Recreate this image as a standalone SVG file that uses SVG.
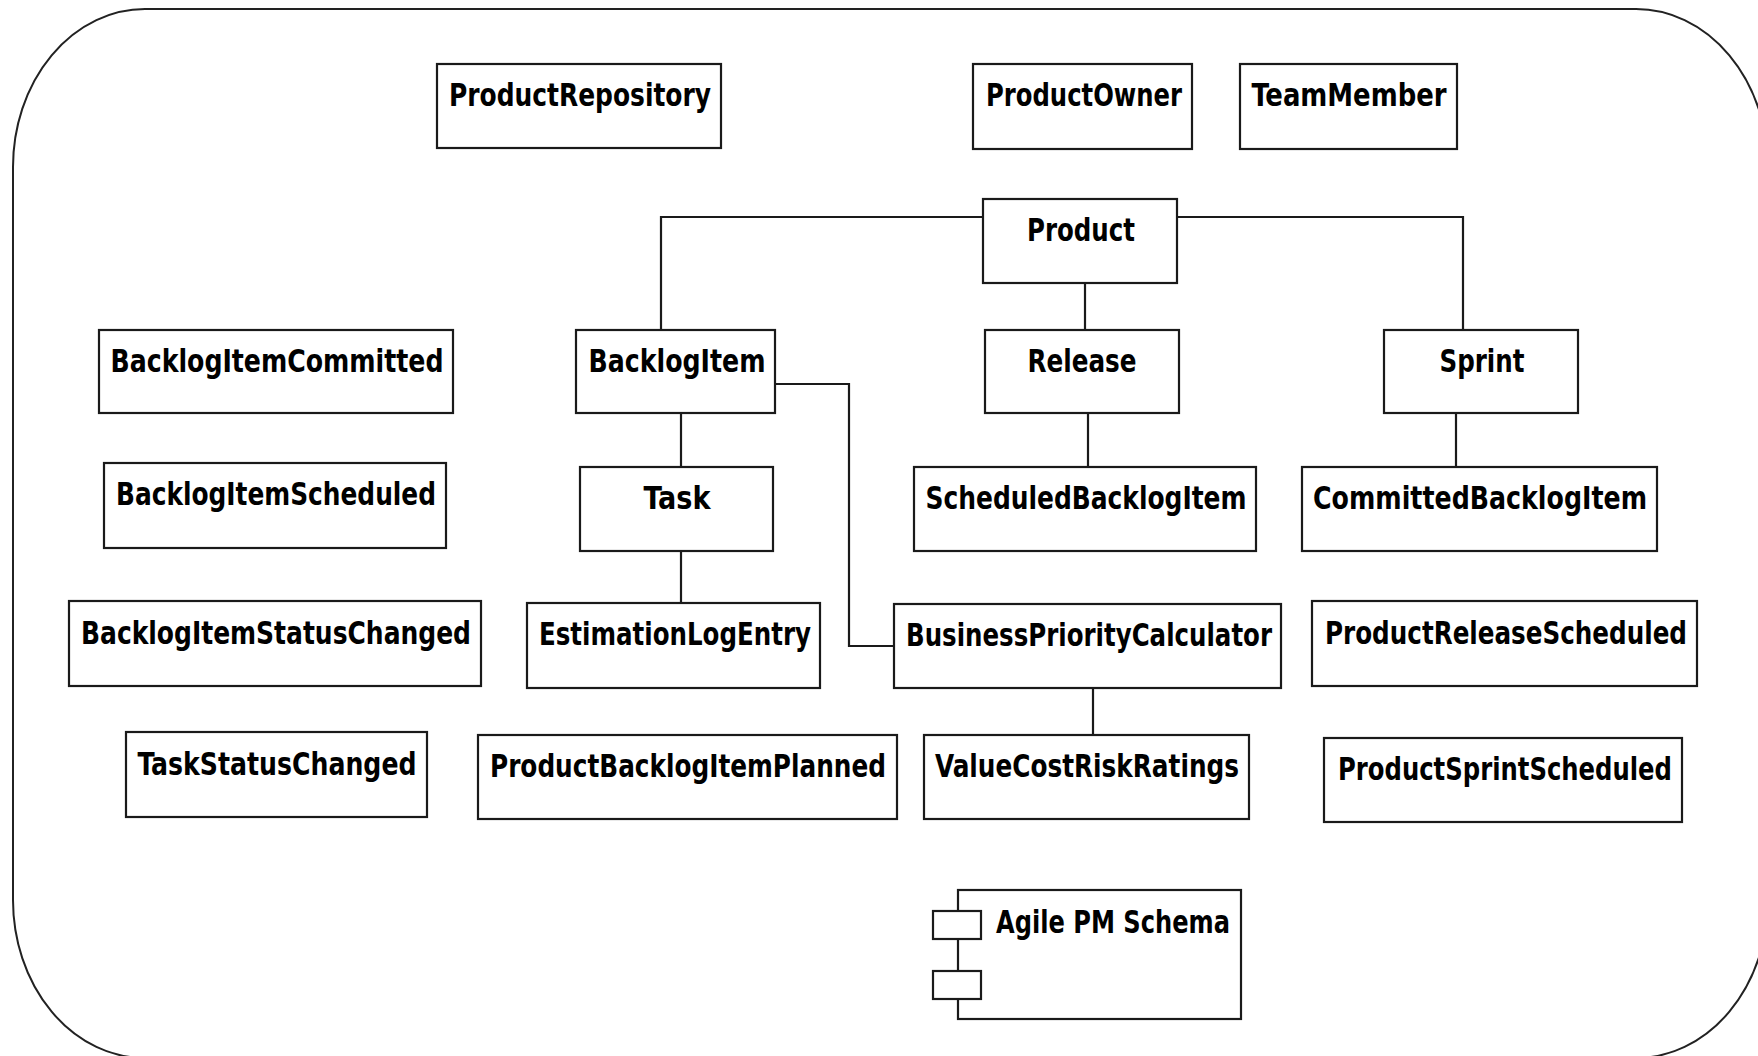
<svg xmlns="http://www.w3.org/2000/svg" width="1758" height="1056" viewBox="0 0 1758 1056">
  <style>
    .box { fill: #ffffff; stroke: #1a1a1a; stroke-width: 2.2; }
    .wire { fill: none; stroke: #1a1a1a; stroke-width: 2.2; }
    .frame { fill: #ffffff; stroke: #222222; stroke-width: 2; }
    .label { font-family: "Liberation Sans Narrow", "DejaVu Sans Condensed", "DejaVu Sans", sans-serif; font-stretch: condensed; font-weight: bold; font-size: 32px; fill: #000000; text-anchor: middle; }
  </style>

  <!-- package frame -->
  <rect class="frame" x="13" y="9" width="1755" height="1049" rx="132" ry="158"/>

  <!-- connectors -->
  <g id="connectors">
    <path class="wire" d="M983,217 H661 V330"/>
    <path class="wire" d="M1177,217 H1463 V330"/>
    <path class="wire" d="M1085,283 V330"/>
    <path class="wire" d="M681,413 V467"/>
    <path class="wire" d="M681,551 V603"/>
    <path class="wire" d="M775,384 H849 V646 H894"/>
    <path class="wire" d="M1088,413 V467"/>
    <path class="wire" d="M1456,413 V467"/>
    <path class="wire" d="M1093,688 V735"/>
  </g>

  <!-- classes -->
  <g id="ProductRepository">
    <rect class="box" x="437" y="64" width="284" height="84"/>
    <text class="label" x="580" y="106" textLength="262" lengthAdjust="spacingAndGlyphs">ProductRepository</text>
  </g>
  <g id="ProductOwner">
    <rect class="box" x="973" y="64" width="219" height="85"/>
    <text class="label" x="1084" y="106" textLength="196" lengthAdjust="spacingAndGlyphs">ProductOwner</text>
  </g>
  <g id="TeamMember">
    <rect class="box" x="1240" y="64" width="217" height="85"/>
    <text class="label" x="1349" y="106" textLength="195" lengthAdjust="spacingAndGlyphs">TeamMember</text>
  </g>
  <g id="Product">
    <rect class="box" x="983" y="199" width="194" height="84"/>
    <text class="label" x="1081" y="241" textLength="108" lengthAdjust="spacingAndGlyphs">Product</text>
  </g>
  <g id="BacklogItemCommitted">
    <rect class="box" x="99" y="330" width="354" height="83"/>
    <text class="label" x="277" y="372" textLength="333" lengthAdjust="spacingAndGlyphs">BacklogItemCommitted</text>
  </g>
  <g id="BacklogItem">
    <rect class="box" x="576" y="330" width="199" height="83"/>
    <text class="label" x="677" y="372" textLength="177" lengthAdjust="spacingAndGlyphs">BacklogItem</text>
  </g>
  <g id="Release">
    <rect class="box" x="985" y="330" width="194" height="83"/>
    <text class="label" x="1082" y="372" textLength="109" lengthAdjust="spacingAndGlyphs">Release</text>
  </g>
  <g id="Sprint">
    <rect class="box" x="1384" y="330" width="194" height="83"/>
    <text class="label" x="1482" y="372" textLength="85" lengthAdjust="spacingAndGlyphs">Sprint</text>
  </g>
  <g id="BacklogItemScheduled">
    <rect class="box" x="104" y="463" width="342" height="85"/>
    <text class="label" x="276" y="505" textLength="320" lengthAdjust="spacingAndGlyphs">BacklogItemScheduled</text>
  </g>
  <g id="Task">
    <rect class="box" x="580" y="467" width="193" height="84"/>
    <text class="label" x="677" y="509" textLength="67" lengthAdjust="spacingAndGlyphs">Task</text>
  </g>
  <g id="ScheduledBacklogItem">
    <rect class="box" x="914" y="467" width="342" height="84"/>
    <text class="label" x="1086" y="509" textLength="321" lengthAdjust="spacingAndGlyphs">ScheduledBacklogItem</text>
  </g>
  <g id="CommittedBacklogItem">
    <rect class="box" x="1302" y="467" width="355" height="84"/>
    <text class="label" x="1480" y="509" textLength="334" lengthAdjust="spacingAndGlyphs">CommittedBacklogItem</text>
  </g>
  <g id="BacklogItemStatusChanged">
    <rect class="box" x="69" y="601" width="412" height="85"/>
    <text class="label" x="276" y="644" textLength="390" lengthAdjust="spacingAndGlyphs">BacklogItemStatusChanged</text>
  </g>
  <g id="EstimationLogEntry">
    <rect class="box" x="527" y="603" width="293" height="85"/>
    <text class="label" x="675" y="645" textLength="272" lengthAdjust="spacingAndGlyphs">EstimationLogEntry</text>
  </g>
  <g id="BusinessPriorityCalculator">
    <rect class="box" x="894" y="604" width="387" height="84"/>
    <text class="label" x="1089" y="646" textLength="366" lengthAdjust="spacingAndGlyphs">BusinessPriorityCalculator</text>
  </g>
  <g id="ProductReleaseScheduled">
    <rect class="box" x="1312" y="601" width="385" height="85"/>
    <text class="label" x="1506" y="644" textLength="362" lengthAdjust="spacingAndGlyphs">ProductReleaseScheduled</text>
  </g>
  <g id="TaskStatusChanged">
    <rect class="box" x="126" y="732" width="301" height="85"/>
    <text class="label" x="277" y="775" textLength="279" lengthAdjust="spacingAndGlyphs">TaskStatusChanged</text>
  </g>
  <g id="ProductBacklogItemPlanned">
    <rect class="box" x="478" y="735" width="419" height="84"/>
    <text class="label" x="688" y="777" textLength="396" lengthAdjust="spacingAndGlyphs">ProductBacklogItemPlanned</text>
  </g>
  <g id="ValueCostRiskRatings">
    <rect class="box" x="924" y="735" width="325" height="84"/>
    <text class="label" x="1087" y="777" textLength="304" lengthAdjust="spacingAndGlyphs">ValueCostRiskRatings</text>
  </g>
  <g id="ProductSprintScheduled">
    <rect class="box" x="1324" y="738" width="358" height="84"/>
    <text class="label" x="1505" y="780" textLength="334" lengthAdjust="spacingAndGlyphs">ProductSprintScheduled</text>
  </g>

  <!-- component -->
  <g id="AgilePMSchema">
    <rect class="box" x="958" y="890" width="283" height="129"/>
    <rect class="box" x="933" y="911" width="48" height="28"/>
    <rect class="box" x="933" y="971" width="48" height="28"/>
    <text class="label" x="1113" y="933" textLength="234" lengthAdjust="spacingAndGlyphs">Agile PM Schema</text>
  </g>
</svg>
